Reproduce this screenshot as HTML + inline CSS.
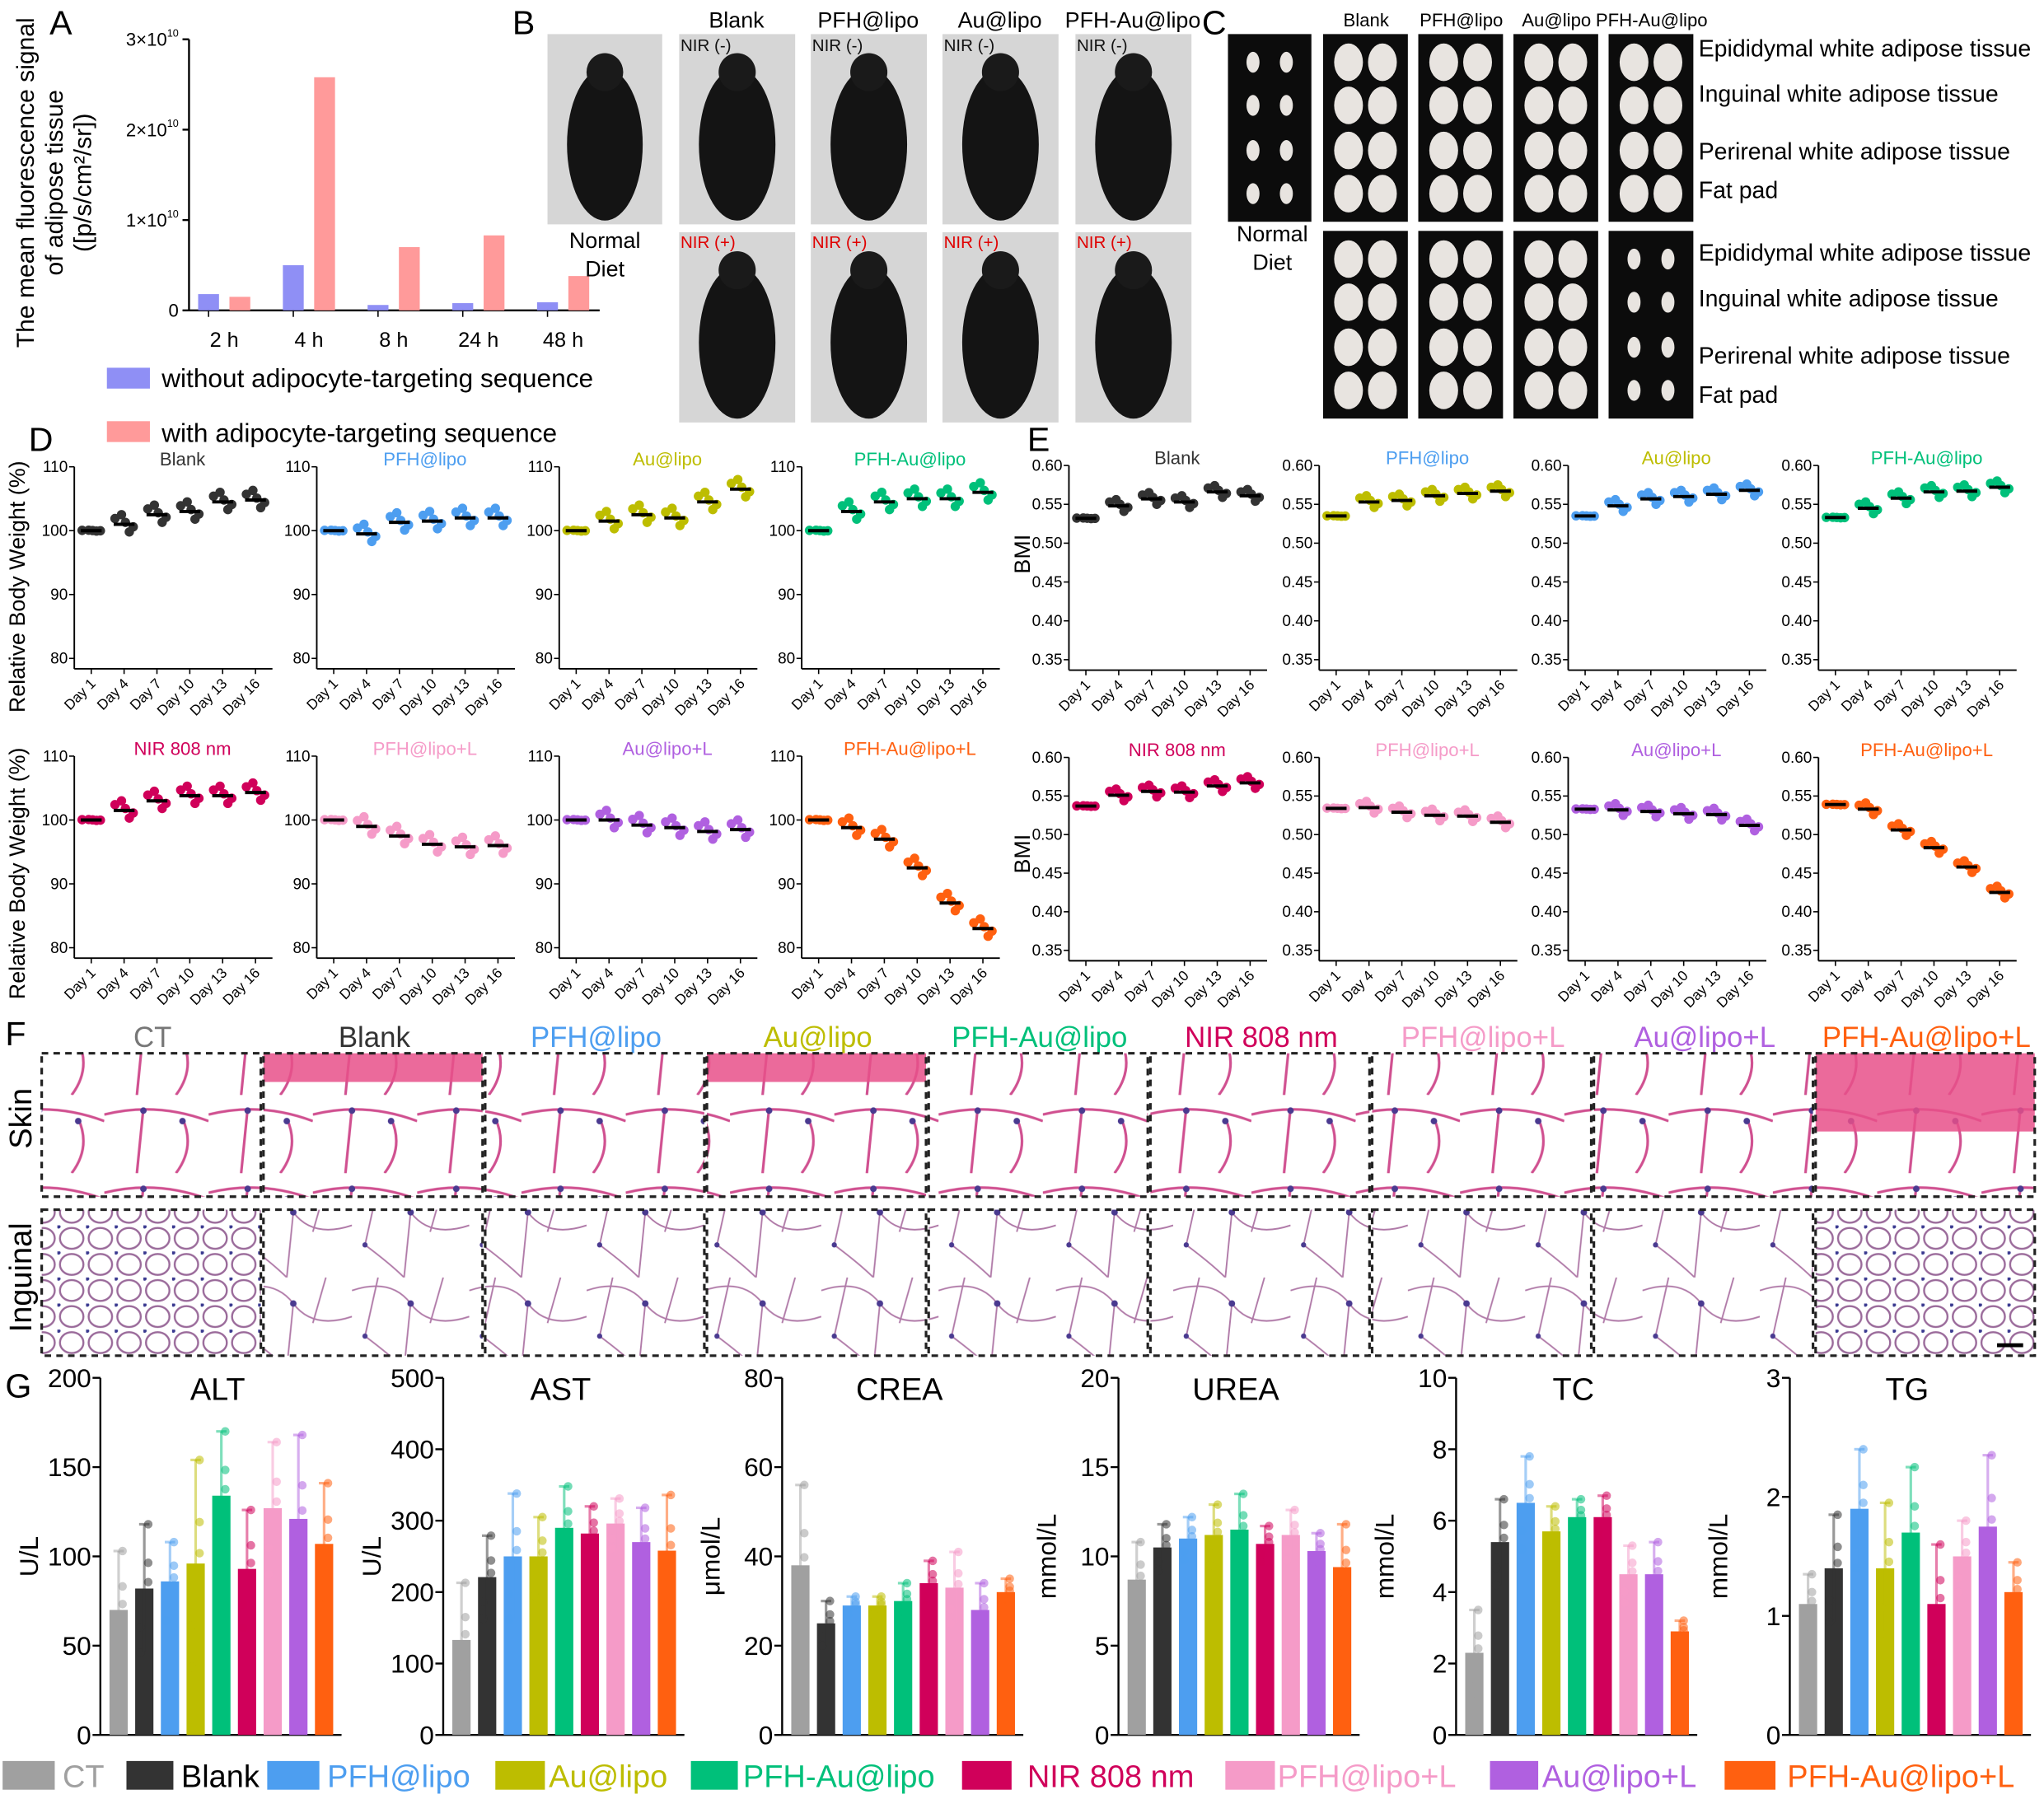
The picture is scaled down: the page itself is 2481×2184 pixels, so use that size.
<!DOCTYPE html>
<html><head><meta charset="utf-8"><style>
html,body{margin:0;padding:0;background:#fff;}
svg{display:block;font-family:"Liberation Sans",Arial,sans-serif;}
</style></head><body>
<svg id="fig" width="2481" height="2184" viewBox="0 0 1568 1380" xmlns="http://www.w3.org/2000/svg">
<defs>
<pattern id="bigcells" width="90" height="70" patternUnits="userSpaceOnUse">
<rect width="90" height="70" fill="#fff"/>
<path d="M0 10 Q30 0 45 20 Q60 40 90 30 M45 20 L40 70 M20 0 L10 45 Q30 60 40 70 M70 0 L60 35" stroke="#b07aa8" stroke-width="1.2" fill="none"/>
<circle cx="45" cy="20" r="2.5" fill="#4a3a90"/><circle cx="10" cy="45" r="2" fill="#4a3a90"/>
</pattern>
<pattern id="smallcells" width="22" height="20" patternUnits="userSpaceOnUse">
<rect width="22" height="20" fill="#fff"/>
<ellipse cx="11" cy="10" rx="9" ry="8" fill="none" stroke="#9a6a9a" stroke-width="1.5"/>
<circle cx="1" cy="1" r="1.5" fill="#3a3a90"/>
</pattern>
<pattern id="skincells" width="80" height="60" patternUnits="userSpaceOnUse">
<rect width="80" height="60" fill="#fff"/>
<path d="M0 15 Q40 5 80 20 M30 10 L25 60 M60 18 Q70 40 55 60" stroke="#d05090" stroke-width="2" fill="none"/>
<circle cx="30" cy="12" r="2.5" fill="#4a3a90"/><circle cx="60" cy="20" r="2.5" fill="#4a3a90"/>
</pattern>
</defs>
<g id="root"></g>
</svg>
<script>
const NS="http://www.w3.org/2000/svg";
const root=document.getElementById('root');
function mk(tag,attrs,parent,text){const e=document.createElementNS(NS,tag);for(const k in attrs)e.setAttribute(k,attrs[k]);if(text!==undefined)e.textContent=text;(parent||root).appendChild(e);return e;}
const COL={CT:'#a0a0a0',Blank:'#333333',PFH:'#4d9ef0',Au:'#bdbd00',PFHAu:'#00c07a',NIR:'#d0005a',PFHL:'#f59bc8',AuL:'#b060e0',PFHAuL:'#ff6010'};

// ---------- Panel A data ----------
const aCats=['2 h','4 h','8 h','24 h','48 h'];
const aBlue=[0.18,0.50,0.06,0.08,0.09];
const aPink=[0.15,2.58,0.70,0.83,0.38];
const aTicks=[0,1,2,3];
const aTickLbl=['0','1×10','2×10','3×10'];

// ---------- Panel D data ----------
const days=['Day 1','Day 4','Day 7','Day 10','Day 13','Day 16'];
const dTitles=['Blank','PFH@lipo','Au@lipo','PFH-Au@lipo','NIR 808 nm','PFH@lipo+L','Au@lipo+L','PFH-Au@lipo+L'];
const dTitleCol=[COL.Blank,COL.PFH,COL.Au,COL.PFHAu,COL.NIR,COL.PFHL,COL.AuL,COL.PFHAuL];
const dPtCol=[COL.Blank,COL.PFH,COL.Au,COL.PFHAu,COL.NIR,COL.PFHL,COL.AuL,COL.PFHAuL];
const dBlank=[100,101,102.5,103,104.5,104.8];
const dPFH=[100,99.5,101.3,101.5,102,102];
const dAu=[100,101.5,102.5,102,104.5,106.5];
const dPFHAu=[100,103,104.5,105,105,106];
const dNIR=[100,101.5,103,103.8,103.8,104.3];
const dPFHL=[100,99,97.5,96.2,95.8,96];
const dAuL=[100,100,99.2,98.8,98.2,98.5];
const dPFHAuL=[100,98.8,97,92.5,87,83];
const dTicks=[80,90,100,110];
const jitter=[0.9,-1.2,1.5,-0.4,0.3];

// ---------- Panel E data ----------
const eTitles=['Blank','PFH@lipo','Au@lipo','PFH-Au@lipo','NIR 808 nm','PFH@lipo+L','Au@lipo+L','PFH-Au@lipo+L'];
const ePtCol=[COL.Blank,COL.Au,COL.PFH,COL.PFHAu,COL.NIR,COL.PFHL,COL.AuL,COL.PFHAuL];
const eBlank=[0.532,0.548,0.557,0.553,0.566,0.561];
const ePFH=[0.535,0.553,0.555,0.561,0.564,0.567];
const eAu=[0.535,0.548,0.557,0.560,0.563,0.568];
const ePFHAu=[0.533,0.545,0.558,0.566,0.567,0.572];
const eNIR=[0.537,0.551,0.556,0.555,0.563,0.567];
const ePFHL=[0.534,0.535,0.529,0.525,0.524,0.516];
const eAuL=[0.533,0.532,0.530,0.527,0.526,0.512];
const ePFHAuL=[0.539,0.533,0.506,0.483,0.458,0.425];
const eTicks=[0.35,0.40,0.45,0.50,0.55,0.60];
const eJit=[0.005,-0.007,0.008,-0.002,0.002];

// ---------- Panel G data ----------
const gGroups=['CT','Blank','PFH@lipo','Au@lipo','PFH-Au@lipo','NIR 808 nm','PFH@lipo+L','Au@lipo+L','PFH-Au@lipo+L'];
const gCols=[COL.CT,COL.Blank,COL.PFH,COL.Au,COL.PFHAu,COL.NIR,COL.PFHL,COL.AuL,COL.PFHAuL];
const gALT=[70,82,86,96,134,93,127,121,107];
const gALTerr=[33,36,22,58,36,33,37,47,34];
const gAST=[133,221,250,250,290,282,296,270,258];
const gASTerr=[80,58,88,55,58,38,35,48,78];
const gCREA=[38,25,29,29,30,34,33,28,32];
const gCREAerr=[18,5,2,2,4,5,8,6,3];
const gUREA=[8.7,10.5,11,11.2,11.5,10.7,11.2,10.3,9.4];
const gUREAerr=[2.1,1.3,1.2,1.7,2.0,1.0,1.4,1.0,2.4];
const gTC=[2.3,5.4,6.5,5.7,6.1,6.1,4.5,4.5,2.9];
const gTCerr=[1.2,1.2,1.3,0.7,0.5,0.6,0.8,0.9,0.3];
const gTG=[1.1,1.4,1.9,1.4,1.7,1.1,1.5,1.75,1.2];
const gTGerr=[0.25,0.45,0.5,0.55,0.55,0.5,0.3,0.6,0.25];

// ===== Panel A =====
(function(){
 const g=mk('g',{});
 mk('text',{x:38,y:26,'font-size':26,},g,'A');
 const x0=145,x1=460,yb=238,yt=30,ymax=3;
 const y=v=>yb-(v/ymax)*(yb-yt);
 const xc=i=>172+i*65;
 mk('line',{x1:x0,y1:yt,x2:x0,y2:yb,stroke:'#000','stroke-width':1.5},g);
 mk('line',{x1:x0,y1:yb,x2:x1,y2:yb,stroke:'#000','stroke-width':1.5},g);
 aTicks.forEach((t,i)=>{
  mk('line',{x1:x0-5,y1:y(t),x2:x0,y2:y(t),stroke:'#000','stroke-width':1.5},g);
  const tx=mk('text',{x:x0-8,y:y(t)+5,'font-size':14,'text-anchor':'end',},g,aTickLbl[i]);
  if(i>0){mk('tspan',{'font-size':8,dy:-7},tx,'10');}
 });
 aCats.forEach((c,i)=>{
  const b=mk('rect',{x:xc(i)-20,y:y(aBlue[i]),width:16,height:yb-y(aBlue[i]),fill:'#8f8ff5'},g);
  
  
  const p=mk('rect',{x:xc(i)+4,y:y(aPink[i]),width:16,height:yb-y(aPink[i]),fill:'#ff9a9a'},g);
  
  
  mk('line',{x1:xc(i)-12,y1:yb,x2:xc(i)-12,y2:yb+5,stroke:'#000'},g);
  mk('text',{x:xc(i),y:yb+28,'font-size':16,'text-anchor':'middle',},g,c);
 });
 const yl=mk('text',{transform:'translate(30,140) rotate(-90)','font-size':19,'text-anchor':'middle',},g);
 mk('tspan',{x:0,dy:-4},yl,'The mean fluorescence signal');
 mk('tspan',{x:0,dy:22},yl,'of adipose tissue');
 mk('tspan',{x:0,dy:22},yl,'([p/s/cm²/sr])');
 mk('rect',{x:82,y:282,width:33,height:16,fill:'#8f8ff5',},g);
 mk('text',{x:124,y:297,'font-size':20,},g,'without adipocyte-targeting sequence');
 mk('rect',{x:82,y:323,width:33,height:16,fill:'#ff9a9a',},g);
 mk('text',{x:124,y:339,'font-size':20,},g,'with adipocyte-targeting sequence');
})();

// ===== Panel B =====
(function(){
 const g=mk('g',{});
 mk('text',{x:393,y:26,'font-size':26,},g,'B');
 function mouse(x,y,w,h,name){
  mk('rect',{x:x,y:y,width:w,height:h,fill:'#d6d6d6',},g);
  mk('ellipse',{cx:x+w/2,cy:y+h*0.58,rx:w*0.33,ry:h*0.40,fill:'#141414'},g);
  mk('ellipse',{cx:x+w/2,cy:y+h*0.2,rx:w*0.16,ry:h*0.1,fill:'#1a1a1a'},g);
 }
 mouse(420,26,88,146,'normal-diet-mouse');
 mk('text',{x:464,y:190,'font-size':17,'text-anchor':'middle'},g,'Normal');
 mk('text',{x:464,y:212,'font-size':17,'text-anchor':'middle'},g,'Diet');
 const labs=['Blank','PFH@lipo','Au@lipo','PFH-Au@lipo'];
 const xs=[521,622,723,825];
 labs.forEach((l,i)=>{
  mk('text',{x:xs[i]+44,y:21,'font-size':17,'text-anchor':'middle',},g,l);
  mouse(xs[i],26,89,146,'mouse-nir-minus');
  mouse(xs[i],178,89,146,'mouse-nir-plus');
  mk('text',{x:xs[i]+1,y:39,'font-size':13,fill:'#111'},g,'NIR (-)');
  mk('text',{x:xs[i]+1,y:190,'font-size':13,fill:'#e00000'},g,'NIR (+)');
 });
})();

// ===== Panel C =====
(function(){
 const g=mk('g',{});
 mk('text',{x:922,y:26,'font-size':26,},g,'C');
 function tissue(x,y,w,h,small,name){
  mk('rect',{x:x,y:y,width:w,height:h,fill:'#0c0c0c',},g);
  const rows=[0.15,0.38,0.62,0.85];
  rows.forEach(r=>{[0.3,0.7].forEach(c=>{
   mk('ellipse',{cx:x+w*c,cy:y+h*r,rx:small?5:w*0.17,ry:small?8:h*0.1,fill:'#e8e4e0'},g);
  });});
 }
 tissue(942,26,64,144,true,'normal-diet-tissue');
 mk('text',{x:976,y:185,'font-size':17,'text-anchor':'middle'},g,'Normal');
 mk('text',{x:976,y:207,'font-size':17,'text-anchor':'middle'},g,'Diet');
 const labs=['Blank','PFH@lipo','Au@lipo','PFH-Au@lipo'];
 const xs=[1015,1088,1161,1234];
 labs.forEach((l,i)=>{
  mk('text',{x:xs[i]+33,y:20,'font-size':14,'text-anchor':'middle',},g,l);
  tissue(xs[i],26,65,144,false,'tissue-nir-minus');
  tissue(xs[i],177,65,144,i===3,'tissue-nir-plus');
 });
 const tl=['Epididymal white adipose tissue','Inguinal white adipose tissue','Perirenal white adipose tissue','Fat pad'];
 const ty=[43,78,122,152];
 [0,157].forEach(off=>tl.forEach((t,i)=>mk('text',{x:1303,y:ty[i]+off,'font-size':18,},g,t)));
})();

// ===== small scatter chart =====
const dxs=[-7,4,-2,7,1];
function scatterChart(ax,ytop,ybot,ticks,fmt,means,jit,title,tcol,pcol,name){
 const g=mk('g',{});
 const lo=ticks[0],hi=ticks[ticks.length-1];
 const y=v=>ybot-(v-lo)/(hi-lo)*(ybot-ytop);
 const x=i=>ax+13+i*25.2;
 mk('line',{x1:ax,y1:ytop,x2:ax,y2:ybot+8,stroke:'#000','stroke-width':1.2},g);
 mk('line',{x1:ax,y1:ybot+8,x2:ax+152,y2:ybot+8,stroke:'#000','stroke-width':1.2},g);
 ticks.forEach(t=>{
  mk('line',{x1:ax-4,y1:y(t),x2:ax,y2:y(t),stroke:'#000'},g);
  mk('text',{x:ax-5,y:y(t)+4,'font-size':12,'text-anchor':'end'},g,fmt(t));
 });
 days.forEach((d,i)=>{
  mk('line',{x1:x(i),y1:ybot+8,x2:x(i),y2:ybot+12,stroke:'#000'},g);
  mk('text',{transform:`translate(${x(i)+4},${ybot+20}) rotate(-45)`,'font-size':11,'text-anchor':'end'},g,d);
 });
 mk('text',{x:ax+83,y:ytop-1,'font-size':14,'text-anchor':'middle',fill:tcol,},g,title);
 means.forEach((m,i)=>{
  jit.forEach((j,k)=>{
   const c=mk('circle',{cx:x(i)+dxs[k],cy:y(m+j*(i===0?0.05:1)),r:3.6,fill:pcol},g);
   
   
  });
  mk('line',{x1:x(i)-8,y1:y(m),x2:x(i)+8,y2:y(m),stroke:'#000','stroke-width':2.5},g);
 });
}
mk('text',{x:22,y:346,'font-size':26,},root,'D');
mk('text',{x:788,y:346,'font-size':26,},root,'E');
const dSeries=[dBlank,dPFH,dAu,dPFHAu,dNIR,dPFHL,dAuL,dPFHAuL];
const dAx=[57,243,429,615];
dSeries.forEach((s,i)=>{
 const r=Math.floor(i/4),c=i%4;
 const yt=r?580:358,yb=r?727:505;
 scatterChart(dAx[c],yt,yb,dTicks,t=>t,s,jitter,dTitles[i],dTitleCol[i],dPtCol[i],'d-chart-'+i);
});
const eSeries=[eBlank,ePFH,eAu,ePFHAu,eNIR,ePFHL,eAuL,ePFHAuL];
const eAx=[820,1012,1203,1395];
eSeries.forEach((s,i)=>{
 const r=Math.floor(i/4),c=i%4;
 const yt=r?581:357,yb=r?737:514;
 scatterChart(eAx[c],yt,yb-8,eTicks,t=>t.toFixed(2),s,eJit,eTitles[i],dTitleCol[i],ePtCol[i],'e-chart-'+i);
});
[['translate(19,450) rotate(-90)','Relative Body Weight (%)'],['translate(19,670) rotate(-90)','Relative Body Weight (%)']].forEach(a=>mk('text',{transform:a[0],'font-size':17,'text-anchor':'middle',},root,a[1]));
[['translate(790,425) rotate(-90)','BMI'],['translate(790,655) rotate(-90)','BMI']].forEach(a=>mk('text',{transform:a[0],'font-size':17,'text-anchor':'middle',},root,a[1]));

// ===== Panel F =====
(function(){
 const g=mk('g',{});
 mk('text',{x:4,y:802,'font-size':26,},g,'F');
 const x0=32,w=170.1;
 gGroups.forEach((n,i)=>{
  const x=x0+i*w;
  mk('text',{x:x+w/2,y:803,'font-size':22,'text-anchor':'middle',fill:gCols[i]==='#a0a0a0'?'#777':gCols[i],},g,n);
  const s=mk('rect',{x:x,y:808,width:w-2,height:110,fill:'url(#skincells)'},g);
  
  
  if(i===1||i===3||i===8){mk('rect',{x:x,y:808,width:w-2,height:i===8?60:22,fill:'#e8508a',opacity:0.85},g);}
  mk('rect',{x:x,y:808,width:w-2,height:110,fill:'none',stroke:'#222','stroke-width':2,'stroke-dasharray':'5,4'},g);
  const ing=mk('rect',{x:x,y:928,width:w-2,height:112,fill:(i===0||i===8)?'url(#smallcells)':'url(#bigcells)'},g);
  
  
  mk('rect',{x:x,y:928,width:w-2,height:112,fill:'none',stroke:'#222','stroke-width':2,'stroke-dasharray':'5,4'},g);
 });
 mk('line',{x1:1532,y1:1032,x2:1552,y2:1032,stroke:'#000','stroke-width':3,},g);
 mk('text',{transform:'translate(24,858) rotate(-90)','font-size':24,'text-anchor':'middle'},g,'Skin');
 mk('text',{transform:'translate(24,980) rotate(-90)','font-size':24,'text-anchor':'middle'},g,'Inguinal');
})();

// ===== Panel G =====
mk('text',{x:4,y:1072,'font-size':26,},root,'G');
const dotF=[1,-0.6,0.4,-1,0.1];
function barChart(ax,max,ticks,title,unit,vals,errs,name){
 const g=mk('g',{});
 const yt=1057,yb=1331;
 const y=v=>yb-v/max*(yb-yt);
 const x=i=>ax+14+i*19.7;
 mk('line',{x1:ax,y1:yt,x2:ax,y2:yb,stroke:'#000','stroke-width':1.5},g);
 mk('line',{x1:ax,y1:yb,x2:ax+185,y2:yb,stroke:'#000','stroke-width':1.5},g);
 ticks.forEach(t=>{
  mk('line',{x1:ax-6,y1:y(t),x2:ax,y2:y(t),stroke:'#000','stroke-width':1.5},g);
  mk('text',{x:ax-7,y:y(t)+7,'font-size':20,'text-anchor':'end'},g,String(t));
 });
 mk('text',{x:ax+90,y:1074,'font-size':24,'text-anchor':'middle',},g,title);
 mk('text',{transform:`translate(${ax-48},${(yt+yb)/2}) rotate(-90)`,'font-size':20,'text-anchor':'middle',},g,unit);
 vals.forEach((v,i)=>{
  const b=mk('rect',{x:x(i)-7,y:y(v),width:14,height:yb-y(v),fill:gCols[i]},g);
  
  
  mk('line',{x1:x(i),y1:y(v+errs[i]),x2:x(i),y2:y(Math.max(0,v-errs[i])),stroke:gCols[i],'stroke-width':2,opacity:0.5},g);
  mk('line',{x1:x(i)-4,y1:y(v+errs[i]),x2:x(i)+4,y2:y(v+errs[i]),stroke:gCols[i],'stroke-width':2,opacity:0.5},g);
  dotF.forEach((f,k)=>{
   mk('circle',{cx:x(i)+(k%2?-3:3),cy:y(v+f*errs[i]),r:3.3,fill:gCols[i],opacity:0.55},g);
  });
 });
}
barChart(77,200,[0,50,100,150,200],'ALT','U/L',gALT,gALTerr,'alt-chart');
barChart(340,500,[0,100,200,300,400,500],'AST','U/L',gAST,gASTerr,'ast-chart');
barChart(600,80,[0,20,40,60,80],'CREA','μmol/L',gCREA,gCREAerr,'crea-chart');
barChart(858,20,[0,5,10,15,20],'UREA','mmol/L',gUREA,gUREAerr,'urea-chart');
barChart(1117,10,[0,2,4,6,8,10],'TC','mmol/L',gTC,gTCerr,'tc-chart');
barChart(1373,3,[0,1,2,3],'TG','mmol/L',gTG,gTGerr,'tg-chart');

// legend
(function(){
 const g=mk('g',{});
 const xs=[2,97,205,380,530,738,940,1143,1323];
 const ws=[40,36,40,38,36,38,38,37,39];
 const tx=[48,139,251,421,570,788,980,1183,1371];
 gGroups.forEach((n,i)=>{
  const s=mk('rect',{x:xs[i],y:1351,width:ws[i],height:22,fill:gCols[i]},g);
  
  
  mk('text',{x:tx[i],y:1371,'font-size':24,fill:i===1?'#000':gCols[i],},g,n);
 });
})();
</script>
</body></html>
